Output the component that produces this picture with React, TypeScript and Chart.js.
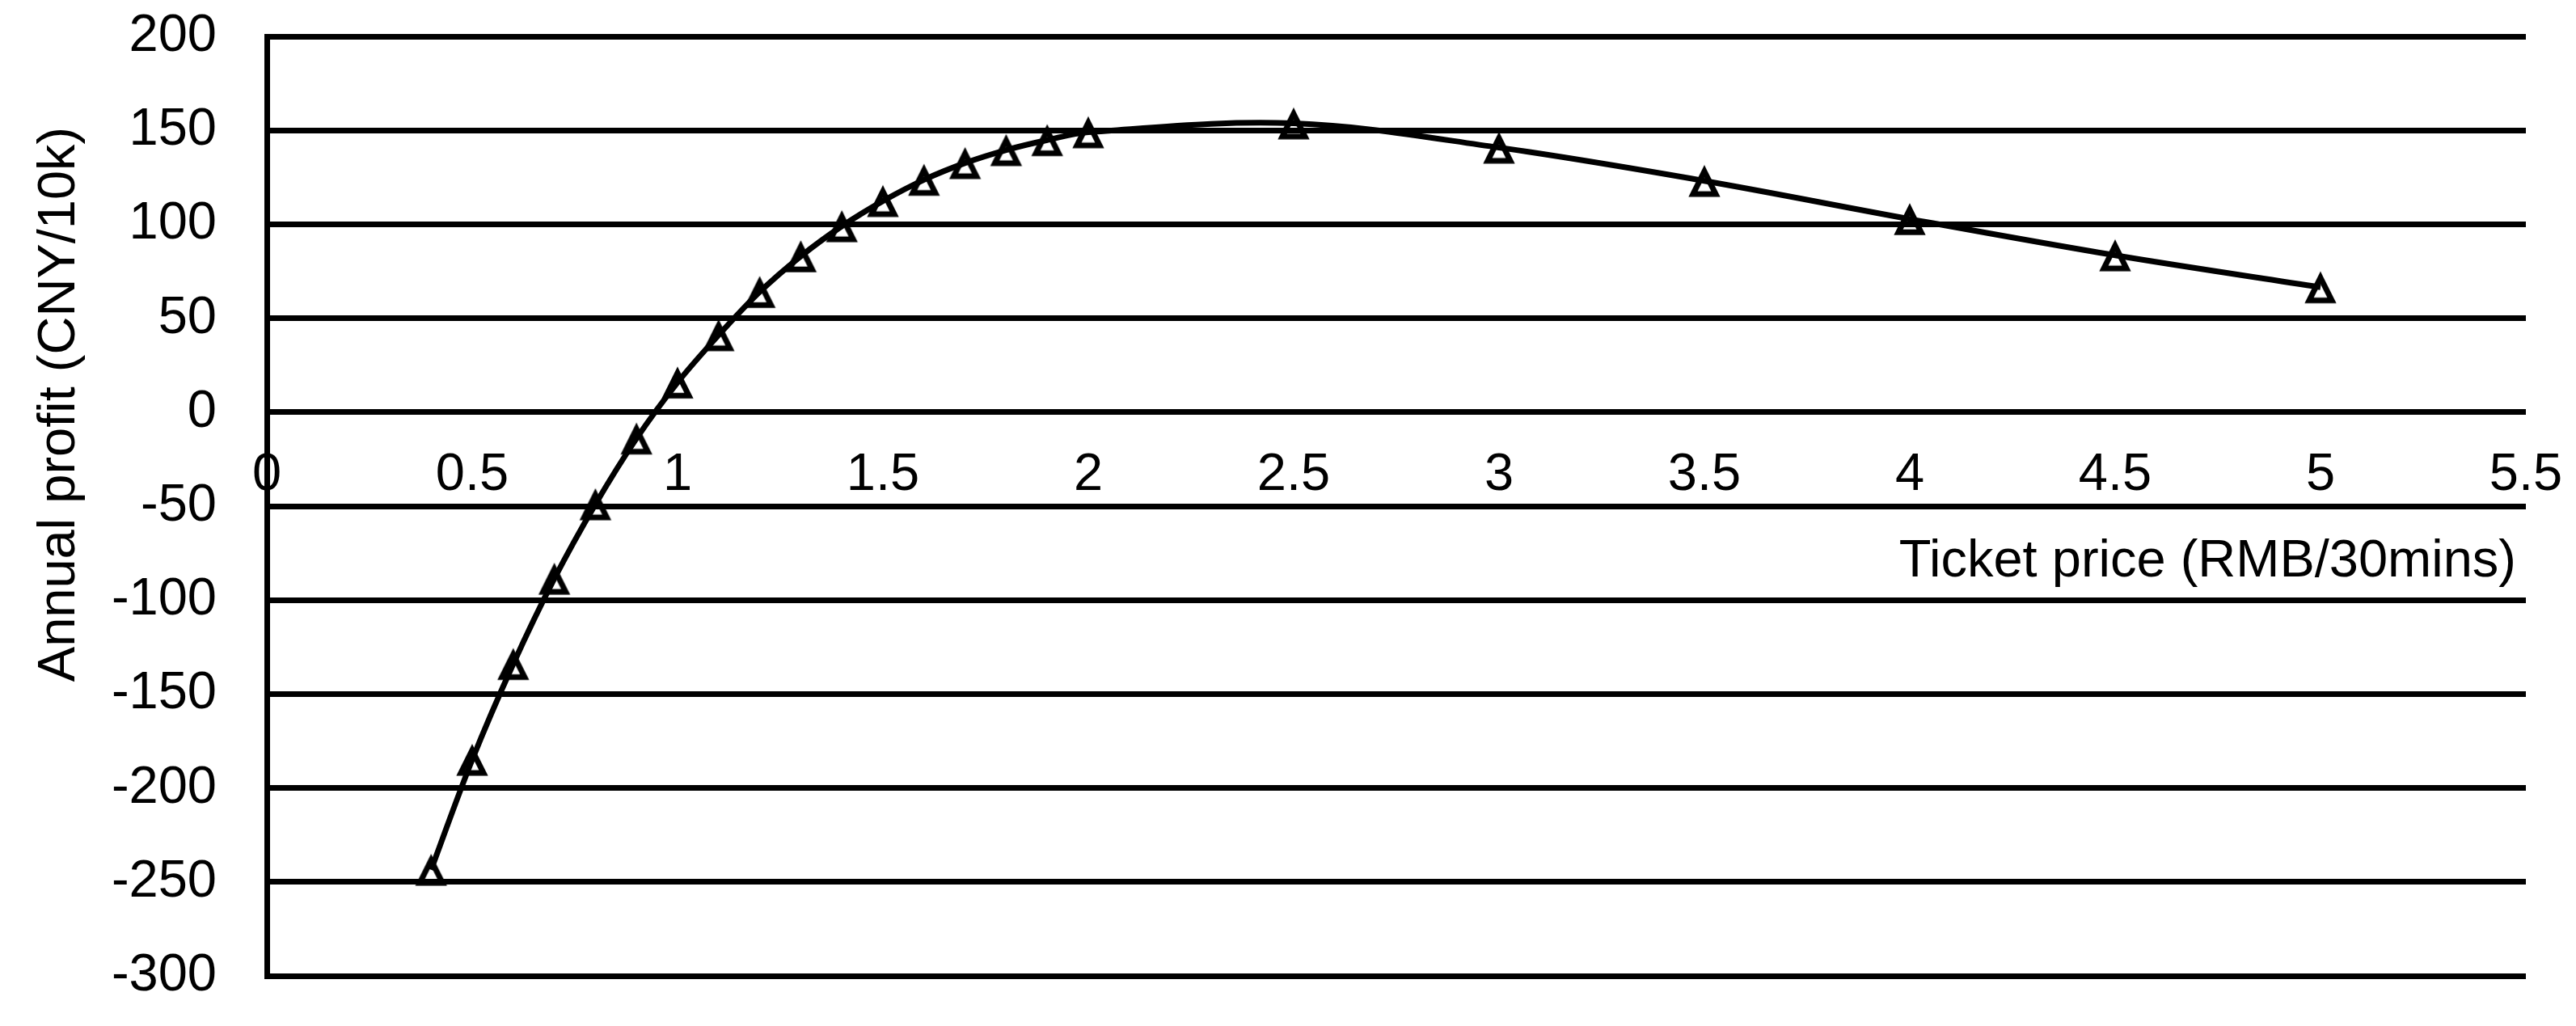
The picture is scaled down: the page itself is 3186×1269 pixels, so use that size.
import React, { useEffect, useRef } from "react";
import { Chart, registerables } from "chart.js";

Chart.register(...registerables);

// ---- data ----
const ticketPrices: number[] = [
  0.4, 0.5, 0.6, 0.7, 0.8, 0.9, 1.0, 1.1, 1.2, 1.3, 1.4, 1.5, 1.6, 1.7, 1.8, 1.9, 2.0,
  2.5, 3.0, 3.5, 4.0, 4.5, 5.0,
];
const annualProfit: number[] = [
  -243.5, -185, -134, -88.6, -49, -14, 15.8, 41, 64, 83, 99, 112.4, 123.7, 132.6, 139.5,
  144.8, 149, 153.7, 140.8, 123.1, 102.8, 83.5, 66.5,
];
const xTickValues: number[] = [0, 0.5, 1, 1.5, 2, 2.5, 3, 3.5, 4, 4.5, 5, 5.5];
const yTickValues: number[] = [-300, -250, -200, -150, -100, -50, 0, 50, 100, 150, 200];
const xTitle = "Ticket price (RMB/30mins)";
const yTitle = "Annual profit (CNY/10k)";

const FONT_FAMILY = '"Liberation Sans", Arial, sans-serif';
const FONT_SIZE = 65;

function makeTriangle(): HTMLCanvasElement {
  const c = document.createElement("canvas");
  c.width = 48;
  c.height = 48;
  const g = c.getContext("2d") as CanvasRenderingContext2D;
  g.strokeStyle = "#000";
  g.lineWidth = 7;
  g.lineJoin = "miter";
  g.miterLimit = 10;
  g.beginPath();
  g.moveTo(24, 12.2);
  g.lineTo(38, 40.2);
  g.lineTo(10, 40.2);
  g.closePath();
  g.stroke();
  return c;
}

const axisTitlePlugin = {
  id: "axisTitlePlugin",
  afterDraw(chart: any) {
    const { ctx, chartArea, scales } = chart;
    ctx.save();
    ctx.fillStyle = "#000";
    ctx.font = `${FONT_SIZE}px ${FONT_FAMILY}`;
    // y title (rotated)
    ctx.save();
    ctx.translate(92, chartArea.top + 455);
    ctx.rotate(-Math.PI / 2);
    ctx.textAlign = "center";
    ctx.textBaseline = "alphabetic";
    ctx.fillText(yTitle, 0, 0);
    ctx.restore();
    // x title
    ctx.textAlign = "right";
    ctx.textBaseline = "alphabetic";
    ctx.fillText(xTitle, chartArea.right - 12, scales.y.getPixelForValue(0) + 203);
    ctx.restore();
  },
};

export default function App() {
  const canvasRef = useRef<HTMLCanvasElement | null>(null);

  useEffect(() => {
    const canvas = canvasRef.current;
    if (!canvas) return;
    const tri = makeTriangle();
    const chart = new Chart(canvas, {
      type: "line",
      data: {
        datasets: [
          {
            data: ticketPrices.map((x, i) => ({ x, y: annualProfit[i] })),
            borderColor: "#000",
            borderWidth: 7,
            tension: 0.35,
            fill: false,
            pointStyle: tri as any,
            pointRadius: 12,
            pointHoverRadius: 12,
            pointBackgroundColor: "rgba(0,0,0,0)",
            pointBorderColor: "#000",
          },
        ],
      },
      options: {
        responsive: false,
        animation: false,
        devicePixelRatio: 1,
        layout: { padding: { left: 0, top: 45, right: 62, bottom: 62 } },
        plugins: {
          legend: { display: false },
          tooltip: { enabled: false },
          title: { display: false },
        },
        scales: {
          x: {
            type: "linear",
            position: { y: 0 } as any,
            min: 0,
            max: 5.5,
            afterBuildTicks: (s: any) => {
              s.ticks = xTickValues.map((v) => ({ value: v }));
            },
            afterFit: (s: any) => {
              s.paddingLeft = 0;
              s.paddingRight = 0;
            },
            grid: { display: false, drawTicks: false },
            border: { display: false },
            ticks: {
              color: "#000",
              padding: 39,
              maxRotation: 0,
              autoSkip: false,
              font: { family: FONT_FAMILY, size: FONT_SIZE },
              callback: (v: any) => String(v),
            },
          },
          y: {
            type: "linear",
            position: "left",
            min: -300,
            max: 200,
            afterBuildTicks: (s: any) => {
              s.ticks = yTickValues.map((v) => ({ value: v }));
            },
            afterFit: (s: any) => {
              s.width = 330;
              s.paddingTop = 0;
              s.paddingBottom = 0;
            },
            grid: { color: "#000", lineWidth: 7, drawTicks: false },
            border: { display: true, color: "#000", width: 7 },
            ticks: {
              color: "#000",
              padding: 62,
              autoSkip: false,
              font: { family: FONT_FAMILY, size: FONT_SIZE },
              callback: (v: any) => String(v),
            },
          },
        },
      },
      plugins: [axisTitlePlugin],
    });
    return () => chart.destroy();
  }, []);

  return (
    <div
      style={{
        position: "fixed",
        left: 0,
        top: 0,
        width: 3186,
        height: 1269,
        background: "#fff",
      }}
    >
      <canvas ref={canvasRef} width={3186} height={1269} style={{ display: "block" }} />
    </div>
  );
}
